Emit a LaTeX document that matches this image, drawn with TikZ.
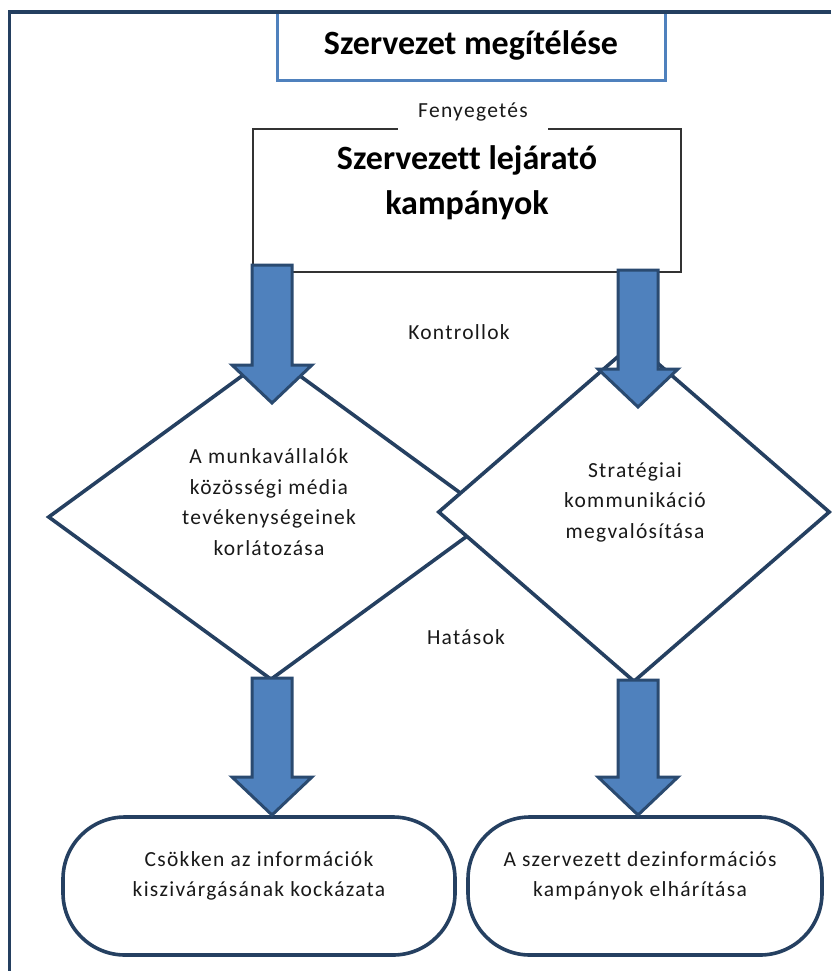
\documentclass[tikz,border=0pt]{standalone}
\usepackage{fontspec}
\setmainfont{Carlito}[Ligatures=NoCommon]
\newfontfamily\spfont{Carlito}[LetterSpace=6,Ligatures=NoCommon]
\usetikzlibrary{shapes.geometric,calc}
\definecolor{framecol}{HTML}{243F60}
\definecolor{titleblue}{HTML}{4F81BD}
\definecolor{shapeline}{HTML}{254061}
\definecolor{arrowline}{HTML}{2A4A70}
\definecolor{arrowfill}{HTML}{4F81BD}
\tikzset{
  titlebox/.style={draw=titleblue, line width=3pt, minimum width=388pt, minimum height=68pt, inner sep=0pt},
  threatbox/.style={draw=black!80, line width=1.3pt, minimum width=428pt, minimum height=143pt, inner sep=0pt},
  bigtext/.style={font=\fontsize{34pt}{45pt}\selectfont\bfseries, align=center, inner sep=0pt},
  smalltext/.style={font=\spfont\fontsize{21.5pt}{30.5pt}\selectfont, align=center, inner sep=0pt, text=black!90},
  decision/.style={diamond, draw=shapeline, fill=white, line width=3.6pt, inner sep=0pt},
  outcome/.style={draw=shapeline, fill=white, line width=3.6pt, rounded corners=62pt, minimum height=138pt, inner sep=0pt},
  blockarrow/.style={draw=arrowline, fill=arrowfill, line width=3pt, line join=miter},
}
\newcommand\blkarrow[2]{%
  \draw[blockarrow] let \p1=#1, \p2=#2 in
    (\x1-20,\y1) -- (\x1+20,\y1) -- (\x1+20,\y2+38) -- (\x1+40,\y2+38)
    -- (\x1,\y2) -- (\x1-40,\y2+38) -- (\x1-20,\y2+38) -- cycle;}
\begin{document}
\begin{tikzpicture}[x=1pt, y=-1pt]
\useasboundingbox (0,0) rectangle (831,971);
% title
\node[titlebox] (title) at (471,47) {};
\node[bigtext] (titletxt) at (471,45) {Szervezet megítélése};
% outer frame
\draw[framecol, line width=3.5pt] (831,12) -- (9.5,12) -- (9.5,971);
% threat box
\node[threatbox] (threat) at (467,200.5) {};
\node[bigtext] (threattxt) at (467,183) {Szervezett lejárató\\kampányok};
\node[smalltext, fill=white, minimum width=150pt, minimum height=40pt] (fen) at (473,112) {Fenyegetés};
% diamonds
\node[decision, minimum width=446pt, minimum height=326pt] (d1) at (271,517) {};
\node[decision, minimum width=392pt, minimum height=340pt] (d2) at (634,512) {};
\node[smalltext] (d1txt) at (269,502) {A munkavállalók\\közösségi média\\tevékenységeinek\\korlátozása};
\node[smalltext] (d2txt) at (635,502) {Stratégiai\\kommunikáció\\megvalósítása};
% labels
\node[smalltext] (ctrl) at (459,332) {Kontrollok};
\node[smalltext] (hat) at (466,637) {Hatások};
% outcomes
\node[outcome, minimum width=392pt] (o1) at (259,886) {};
\node[outcome, minimum width=354pt] (o2) at (645,886) {};
\node[smalltext] (o1txt) at (259,876) {Csökken az információk\\kiszivárgásának kockázata};
\node[smalltext] (o2txt) at (640,876) {A szervezett dezinformációs\\kampányok elhárítása};
% arrow end points, from the boxes they join
\coordinate (a1s) at (272,265);
\coordinate (a1e) at (272,403);
\coordinate (a2s) at (638,270);
\coordinate (a2e) at (638,407);
\coordinate (a3s) at (272,678);
\coordinate (a3e) at (272,815);
\coordinate (a4s) at (638,680);
\coordinate (a4e) at (638,815);
\blkarrow{(a1s)}{(a1e)}
\blkarrow{(a2s)}{(a2e)}
\blkarrow{(a3s)}{(a3e)}
\blkarrow{(a4s)}{(a4e)}
\end{tikzpicture}
\end{document}
